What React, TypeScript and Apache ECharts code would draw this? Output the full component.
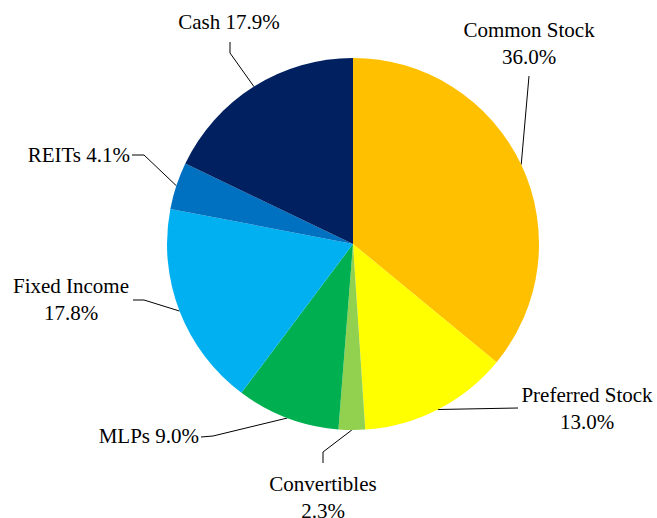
import React, { useEffect, useRef } from "react";
import * as echarts from "echarts";

const categories = ["Common Stock", "Preferred Stock", "Convertibles", "MLPs", "Fixed Income", "REITs", "Cash"];
const values = [36.0, 13.0, 2.3, 9.0, 17.8, 4.1, 17.9];
const colors = ["#FFC000", "#FFFF00", "#92D050", "#00B050", "#00B0F0", "#0070C0", "#002060"];
const twoLineLabel = [true, true, true, false, true, false, false];

const CX = 353;
const CY = 244;
const R = 186;
const FONT = "Liberation Serif";

// label anchor placement (layout only)
const labelPlacement = [
  { x: 529, y: 43, align: "center", elbows: [[529, 76]] },
  { x: 587, y: 408, align: "center", elbows: [[518, 408]] },
  { x: 323, y: 497, align: "center", elbows: [[323, 452], [323, 463]] },
  { x: 199, y: 436, align: "right", elbows: [[213, 436], [201, 437]] },
  { x: 71, y: 299, align: "center", elbows: [[144, 300], [133, 300]] },
  { x: 130, y: 155, align: "right", elbows: [[144, 155], [132, 155]] },
  { x: 229, y: 22, align: "center", elbows: [[230, 53], [230, 42]] },
];

export default function App() {
  const ref = useRef<HTMLDivElement>(null);
  useEffect(() => {
    if (!ref.current) return;
    const chart = echarts.init(ref.current, null, { renderer: "svg" });
    const total = values.reduce((a, b) => a + b, 0);
    const edgePoints: number[][] = [];
    let cum = 0;
    values.forEach((v) => {
      const a = ((cum + v / 2) / total) * Math.PI * 2;
      edgePoints.push([CX + R * Math.sin(a), CY - R * Math.cos(a)]);
      cum += v;
    });
    chart.setOption({
      animation: false,
      textStyle: { fontFamily: FONT },
      series: [
        {
          type: "pie",
          center: [CX, CY],
          radius: R,
          startAngle: 90,
          clockwise: true,
          avoidLabelOverlap: false,
          data: categories.map((name, i) => ({
            name,
            value: values[i],
            itemStyle: { color: colors[i] },
          })),
          itemStyle: { borderWidth: 0 },
          label: {
            show: true,
            position: "outside",
            fontFamily: FONT,
            fontSize: 21,
            lineHeight: 27,
            color: "#000",
            formatter: (p: any) =>
              p.name + (twoLineLabel[p.dataIndex] ? "\n" : " ") + Number(p.value).toFixed(1) + "%",
          },
          labelLine: {
            show: true,
            smooth: false,
            lineStyle: { color: "#000", width: 1 },
          },
          labelLayout: (params: any) => {
            const lp = labelPlacement[params.dataIndex];
            return {
              x: lp.x,
              y: lp.y,
              align: lp.align,
              verticalAlign: "middle",
              hideOverlap: false,
              moveOverlap: null,
              labelLinePoints: [edgePoints[params.dataIndex], ...lp.elbows],
            };
          },
          emphasis: { disabled: true },
        },
      ],
    });
    return () => chart.dispose();
  }, []);
  return (
    <div
      ref={ref}
      style={{ position: "absolute", left: 0, top: 0, width: 657, height: 518, background: "#fff" }}
    />
  );
}
